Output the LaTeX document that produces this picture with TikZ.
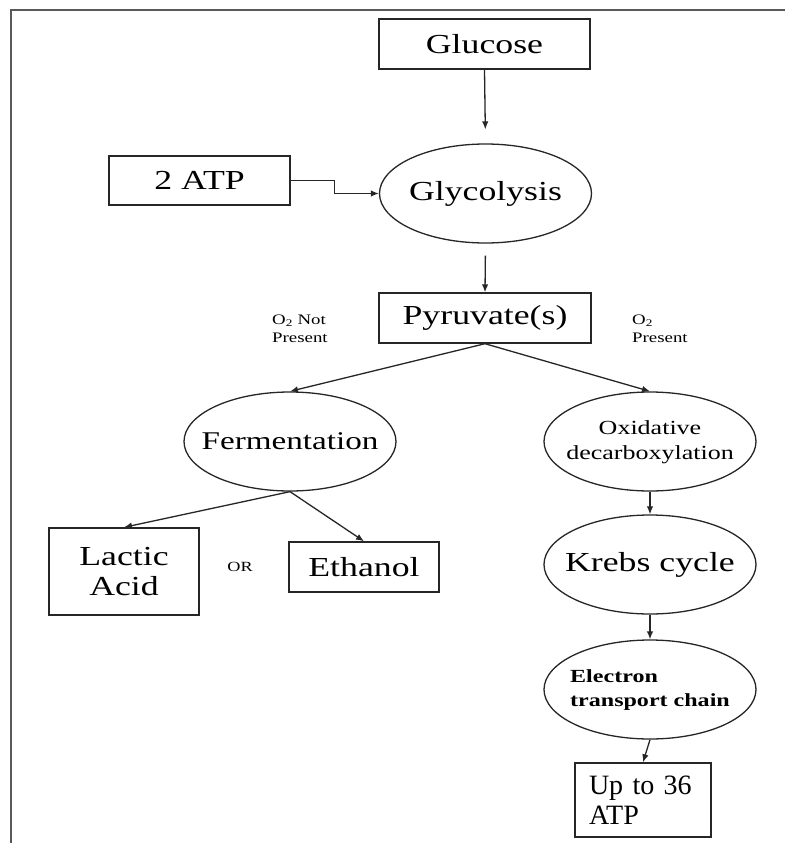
\documentclass[tikz,border=0pt]{standalone}
\usepackage{fontspec}
\setmainfont[FakeStretch=1.3]{Liberation Serif}
\newfontfamily\plainserif{Liberation Serif}
\usetikzlibrary{shapes.geometric,arrows.meta}
\newcommand{\zw}[1]{\makebox[0pt]{#1}}
\begin{document}
\begin{tikzpicture}[x=1pt,y=-1pt,
 boxn/.style={draw=black!85, line width=1.4pt, rectangle, inner sep=0pt},
 ovaln/.style={draw=black!85, line width=1.3pt, ellipse, inner sep=0pt, minimum width=212pt, minimum height=99pt},
 arr/.style={draw=black!85, line width=1.3pt, -{Latex[length=8pt,width=6.5pt]}},
 big/.style={font=\fontsize{27.5}{30}\selectfont},
 small/.style={font=\fontsize{20}{25}\selectfont},
 etcf/.style={font=\fontsize{18.5}{24}\selectfont\bfseries},
 lab/.style={font=\fontsize{14.5}{18}\selectfont, inner sep=0pt, align=left}]
\useasboundingbox (0,0) rectangle (785,843);
\fill[white] (0,0) rectangle (785,843);
\draw[black!65, line width=1.4pt] (785,10) -- (11,10) -- (11,843);

\node[boxn, big, minimum width=211pt, minimum height=50pt] (glu) at (484.5,44) {Glucose};
\node[boxn, big, minimum width=181pt, minimum height=49pt] (atp) at (199.5,180.5) {2 ATP};
\node[ovaln, big] (gly) at (485.5,193.5) {\zw{Glycolysis}};
\node[boxn, big, minimum width=212pt, minimum height=50pt] (pyr) at (485,318) {Pyruvate(s)};
\node[ovaln, font=\fontsize{25.5}{30}\selectfont] (fer) at (290,441.5) {\zw{Fermentation}};
\node[ovaln, small] (oxi) at (650,441.5) {\zw{\begin{tabular}{@{}c@{}}Oxidative\\decarboxylation\end{tabular}}};
\node[ovaln, big] (kre) at (650,564.5) {\zw{Krebs cycle}};
\node[ovaln, etcf] (etc) at (650,689.5) {\zw{\begin{tabular}{@{}l@{}}Electron\\transport chain\end{tabular}}};
\node[boxn, big, minimum width=150pt, minimum height=87pt, align=center] (lac) at (124,571.5) {Lactic\\Acid};
\node[boxn, big, minimum width=150pt, minimum height=50pt] (eth) at (364,567) {Ethanol};
\node[boxn, font=\plainserif\fontsize{28}{30}\selectfont, minimum width=136pt, minimum height=74pt, text width=108pt, inner xsep=14pt, inner ysep=0pt, align=left] (up) at (643,800) {Up to 36\\ATP};

\node[lab, anchor=west] (nolab) at (272,329) {O\textsubscript{2} Not\\Present};
\node[lab, anchor=west] (yeslab) at (632,329) {O\textsubscript{2}\\Present};
\node[font=\fontsize{14}{16}\selectfont, inner sep=0pt] (orlab) at (240,567) {OR};

\draw[arr, shorten >=14pt] (glu.south) -- (gly.north);
\draw[arr] (atp.east) -- ++(44,0) |- (gly.west);
\draw[arr, shorten <=12pt] (gly.south) -- (pyr.north);
\draw[arr] (pyr.south) -- (fer.north);
\draw[arr] (pyr.south) -- (oxi.north);
\draw[arr] (fer.south) -- (lac.north);
\draw[arr] (fer.south) -- (eth.north);
\draw[arr] (oxi.south) -- (kre.north);
\draw[arr] (kre.south) -- (etc.north);
\draw[arr] (etc.south) -- (up.north);
\end{tikzpicture}
\end{document}
